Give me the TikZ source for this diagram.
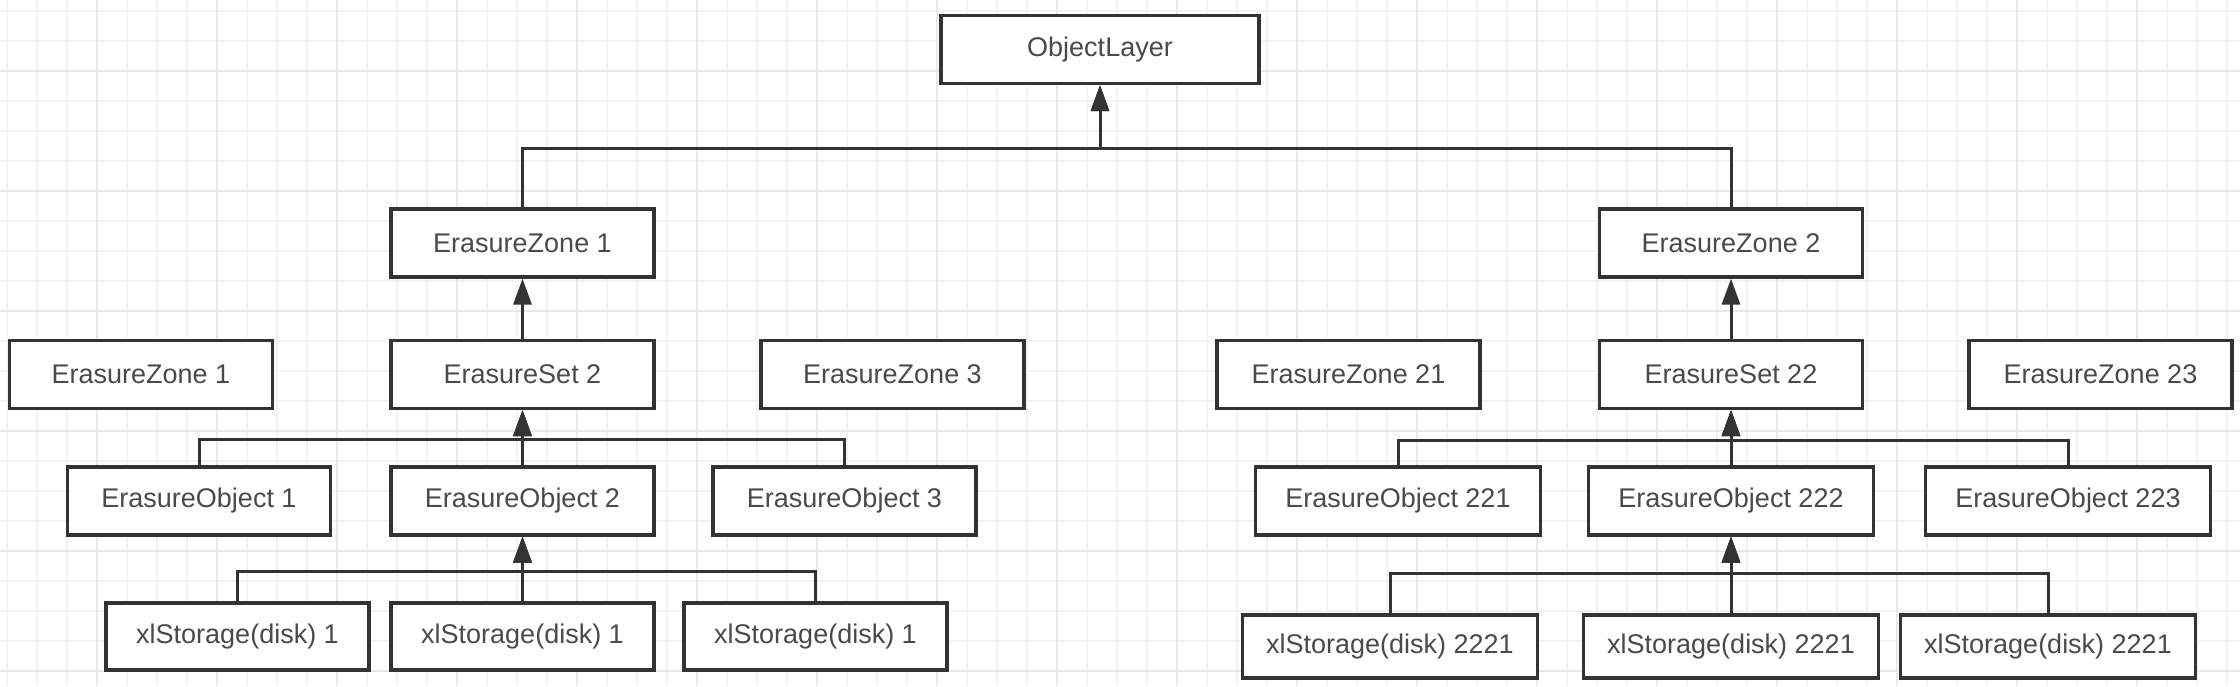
\documentclass[tikz,border=0pt]{standalone}
\usepackage{fontspec}
\setmainfont{Liberation Sans}
\usetikzlibrary{arrows.meta}

\definecolor{edge}{HTML}{333333}
\definecolor{label}{HTML}{4A4A4A}
\definecolor{gridlight}{HTML}{F3F3F3}
\definecolor{griddark}{HTML}{E9E9E9}

\begin{document}
\begin{tikzpicture}[x=0.5pt,y=-0.5pt,
	box/.style={draw=edge,line width=1.6pt,fill=white,text=label,font=\fontsize{13.5}{16}\selectfont,
		minimum width=131.5pt,minimum height=34pt,inner sep=0pt},
	wide/.style={box,minimum width=142.5pt},
	disk/.style={box,minimum width=147.5pt,minimum height=31.5pt},
	link/.style={draw=edge,line width=1.5pt,-{Triangle[length=13pt,width=9pt]}},
	gridminor/.style={line width=0.8pt,draw=gridlight},
	gridmajor/.style={line width=0.8pt,draw=griddark}]
	\useasboundingbox (0,0) rectangle (2240,686);
	% background grid
	\foreach \gx in {7,37,...,2237}
		\draw[gridminor] (\gx,0) -- (\gx,686);
	\foreach \gy in {11,41,...,686}
		\draw[gridminor] (0,\gy) -- (2240,\gy);
	\foreach \gx in {97,217,...,2237}
		\draw[gridmajor] (\gx,0) -- (\gx,686);
	\foreach \gy in {71,191,...,686}
		\draw[gridmajor] (0,\gy) -- (2240,\gy);

	\node[box,minimum width=159pt] (layer) at (1100,49.5) {ObjectLayer};
	\node[box] (zone1) at (522.5,243) {ErasureZone 1};
	\node[box] (zone2) at (1731,243) {ErasureZone 2};

	\node[box] (zoneA) at (141,374.5) {ErasureZone 1};
	\node[box] (set2) at (522.5,374.5) {ErasureSet 2};
	\node[box] (zone3) at (892.5,374.5) {ErasureZone 3};
	\node[box] (zone21) at (1348.5,374.5) {ErasureZone 21};
	\node[box] (set22) at (1731,374.5) {ErasureSet 22};
	\node[box] (zone23) at (2100.5,374.5) {ErasureZone 23};

	\node[box] (obj1) at (199,501) {ErasureObject 1};
	\node[box] (obj2) at (522.5,501) {ErasureObject 2};
	\node[box] (obj3) at (844.5,501) {ErasureObject 3};
	\node[wide] (obj221) at (1398,501) {ErasureObject 221};
	\node[wide] (obj222) at (1731,501) {ErasureObject 222};
	\node[wide] (obj223) at (2068,501) {ErasureObject 223};

	\node[box,minimum height=33.5pt] (disk11) at (237.5,636.5) {xlStorage(disk) 1};
	\node[box,minimum height=33.5pt] (disk12) at (522.5,636.5) {xlStorage(disk) 1};
	\node[box,minimum height=33.5pt] (disk13) at (815.5,636.5) {xlStorage(disk) 1};
	\node[disk] (disk21) at (1390,646.5) {xlStorage(disk) 2221};
	\node[disk] (disk22) at (1731,646.5) {xlStorage(disk) 2221};
	\node[disk] (disk23) at (2048,646.5) {xlStorage(disk) 2221};

	% bus joints
	\coordinate (top) at (1100,148);
	\coordinate (busL) at (522.5,439);
	\coordinate (busR) at (1731,440);
	\coordinate (diskL) at (522.5,571);
	\coordinate (diskR) at (1731,573);

	\draw[link] (zone1.north) |- (top) -- (layer.south);
	\draw[link] (zone2.north) |- (top) -- (layer.south);
	\draw[link] (set2) -- (zone1);
	\draw[link] (set22) -- (zone2);
	\foreach \o in {obj1,obj2,obj3}
		\draw[link] (\o.north) |- (busL) -- (set2.south);
	\foreach \o in {obj221,obj222,obj223}
		\draw[link] (\o.north) |- (busR) -- (set22.south);
	\foreach \d in {disk11,disk12,disk13}
		\draw[link] (\d.north) |- (diskL) -- (obj2.south);
	\foreach \d in {disk21,disk22,disk23}
		\draw[link] (\d.north) |- (diskR) -- (obj222.south);
\end{tikzpicture}
\end{document}
